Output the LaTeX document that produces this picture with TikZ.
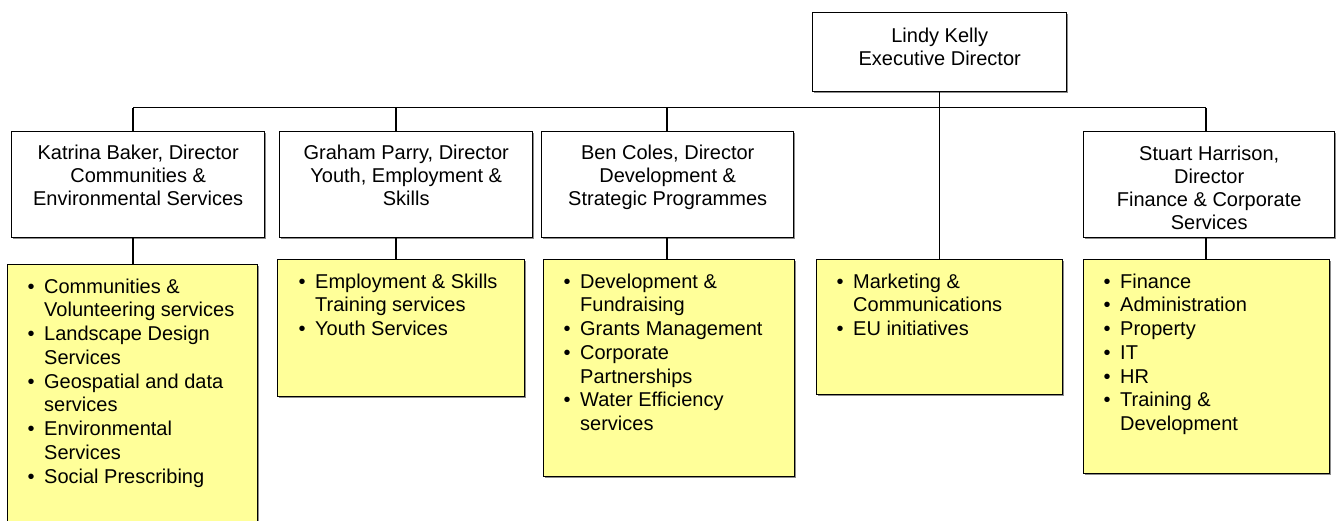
\documentclass[tikz,border=0pt]{standalone}
\usepackage{fontspec}
\setmainfont{Liberation Sans}
\usetikzlibrary{shadows}
\definecolor{yellowbox}{HTML}{FFFF99}
% bullet and hanging indent for the service lists
\newcommand\itemdot{\makebox[16.5pt][l]{\textbullet}}
\newcommand\itemgap{\hspace*{16.5pt}}

\begin{document}
\begin{tikzpicture}[x=1pt,y=-1pt,
  frame/.style={draw=black, line width=1.4pt, inner sep=0pt, anchor=north west,
    drop shadow={shadow xshift=1.3pt, shadow yshift=-1.3pt, fill=black!45, opacity=1}},
  head/.style={frame, fill=white},
  dept/.style={frame, fill=yellowbox},
  % texts are placed by the baseline of their last line
  headtext/.style={anchor=base, align=center, inner sep=0pt, font=\fontsize{20}{23}\selectfont},
  listtext/.style={anchor=base west, align=left, inner sep=0pt, font=\fontsize{20}{23.75}\selectfont},
  link/.style={draw=black, line width=1.4pt}
]
\path[use as bounding box, clip] (0,0) rectangle (1336,520);

% executive director
\node[head, minimum width=254, minimum height=79] (ld) at (812,12) {};
\node[headtext] (ldt) at ([yshift=-53pt]ld.north) {Lindy Kelly\\Executive Director};

% directors
\node[head, minimum width=253, minimum height=106] (kb) at (11,131) {};
\node[head, minimum width=253, minimum height=106] (gp) at (279,131) {};
\node[head, minimum width=252, minimum height=106] (bc) at (541,131) {};
\node[head, minimum width=251, minimum height=106] (sh) at (1083,131) {};
\node[headtext] (kbt) at ([yshift=-74pt]kb.north) {Katrina Baker, Director\\Communities \&\\Environmental Services};
\node[headtext] (gpt) at ([yshift=-74pt]gp.north) {Graham Parry, Director\\Youth, Employment \&\\Skills};
\node[headtext] (bct) at ([yshift=-74pt]bc.north) {Ben Coles, Director\\Development \&\\Strategic Programmes};
\node[headtext] (sht) at ([yshift=-98pt]sh.north) {Stuart Harrison,\\Director\\Finance \& Corporate\\Services};

% departments
\node[dept, minimum width=250, minimum height=275] (kd) at (7,264) {};
\node[dept, minimum width=247, minimum height=137] (gd) at (277,259) {};
\node[dept, minimum width=251, minimum height=217] (bd) at (543,259) {};
\node[dept, minimum width=246, minimum height=135] (md) at (816,259) {};
\node[dept, minimum width=246, minimum height=214] (sd) at (1083,259) {};

\node[listtext] (kdt) at ([xshift=20.5pt,yshift=-219pt]kd.north west)
  {\itemdot Communities \&\\ \itemgap Volunteering services\\ \itemdot Landscape Design\\ \itemgap Services\\ \itemdot Geospatial and data\\ \itemgap services\\ \itemdot Environmental\\ \itemgap Services\\ \itemdot Social Prescribing};
\node[listtext] (gdt) at ([xshift=21.5pt,yshift=-76.5pt]gd.north west)
  {\itemdot Employment \& Skills\\ \itemgap Training services\\ \itemdot Youth Services};
\node[listtext] (bdt) at ([xshift=20.5pt,yshift=-171.5pt]bd.north west)
  {\itemdot Development \&\\ \itemgap Fundraising\\ \itemdot Grants Management\\ \itemdot Corporate\\ \itemgap Partnerships\\ \itemdot Water Efficiency\\ \itemgap services};
\node[listtext] (mdt) at ([xshift=20.5pt,yshift=-76.5pt]md.north west)
  {\itemdot Marketing \&\\ \itemgap Communications\\ \itemdot EU initiatives};
\node[listtext] (sdt) at ([xshift=20.5pt,yshift=-171.5pt]sd.north west)
  {\itemdot Finance\\ \itemdot Administration\\ \itemdot Property\\ \itemdot IT\\ \itemdot HR\\ \itemdot Training \&\\ \itemgap Development};

% reporting lines
\coordinate (busK) at (133,107.5);
\coordinate (busG) at (396,107.5);
\coordinate (busB) at (667,107.5);
\coordinate (busS) at (1206,107.5);
\draw[link] (busK) -- (busS);
\draw[link] (ld.south) -- (ld.south |- md.north);
\draw[link] (busK) -- (busK |- kb.north);
\draw[link] (busG) -- (busG |- gp.north);
\draw[link] (busB) -- (busB |- bc.north);
\draw[link] (busS) -- (busS |- sh.north);
\draw[link] (busK |- kb.south) -- (busK |- kd.north);
\draw[link] (busG |- gp.south) -- (busG |- gd.north);
\draw[link] (busB |- bc.south) -- (busB |- bd.north);
\draw[link] (busS |- sh.south) -- (busS |- sd.north);
\end{tikzpicture}
\end{document}
